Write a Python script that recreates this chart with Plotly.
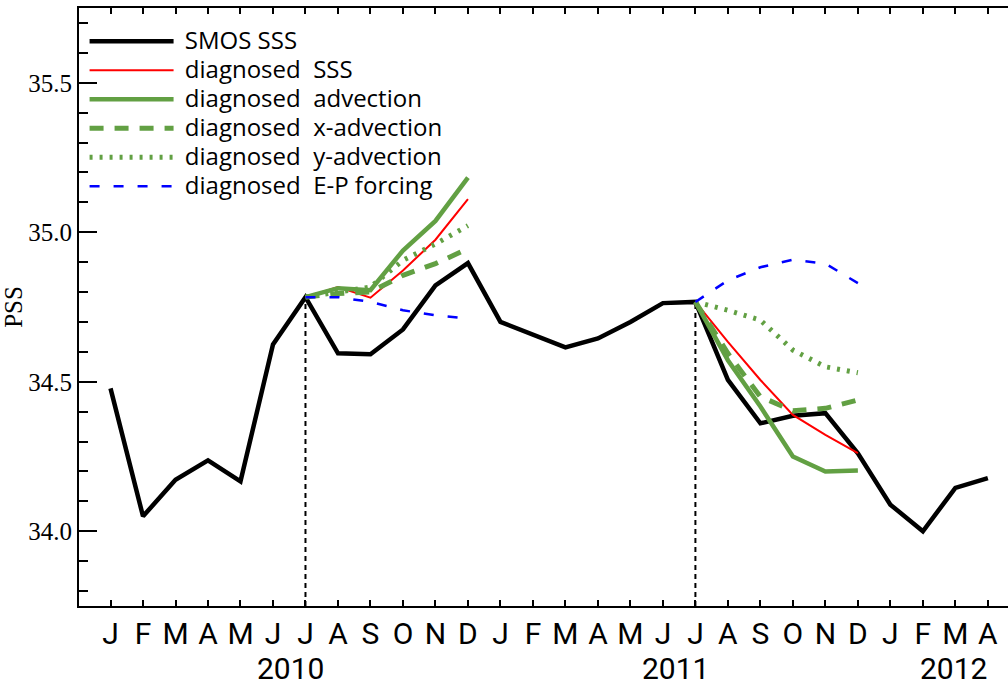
import plotly.graph_objects as go

# ---------------- data ----------------
month_labels = list("JFMAMJJASONDJFMAMJJASONDJFMA")
month_idx = list(range(len(month_labels)))

smos_sss = [34.478, 34.050, 34.172, 34.237, 34.167, 34.625, 34.783, 34.595,
            34.592, 34.675, 34.822, 34.897, 34.700, 34.656, 34.615, 34.645,
            34.700, 34.763, 34.767, 34.506, 34.361, 34.386, 34.395, 34.261,
            34.089, 34.000, 34.145, 34.178]

seg1_idx = [6, 7, 8, 9, 10, 11]
seg2_idx = [18, 19, 20, 21, 22, 23]

diag_sss_2010 = [34.783, 34.817, 34.781, 34.872, 34.975, 35.111]
diag_sss_2011 = [34.767, 34.633, 34.506, 34.389, 34.322, 34.261]
adv_2010 = [34.783, 34.813, 34.806, 34.939, 35.038, 35.183]
adv_2011 = [34.767, 34.572, 34.417, 34.250, 34.200, 34.203]
xadv_2010 = [34.783, 34.795, 34.800, 34.856, 34.895, 34.945]
xadv_2011 = [34.767, 34.595, 34.450, 34.403, 34.411, 34.439]
yadv_2010 = [34.783, 34.800, 34.817, 34.906, 34.961, 35.022]
yadv_2011 = [34.767, 34.739, 34.706, 34.606, 34.550, 34.530]
ep_2010 = [34.783, 34.783, 34.767, 34.739, 34.722, 34.711]
ep_2011 = [34.767, 34.839, 34.883, 34.908, 34.895, 34.830]

start_idx = [6, 18]
year_labels = ["2010", "2011", "2012"]
year_pos = [5.55, 17.4, 25.95]

Y_MIN, Y_MAX = 33.75, 35.75
X_MIN, X_MAX = -0.97, 27.62

GREEN = "#62a043"
SANS = "Open Sans, Noto Sans, sans-serif"
NARROW = "Liberation Sans Narrow, Roboto, sans-serif"
SERIF = "Liberation Serif, DejaVu Serif, serif"


def two_seg(a, b):
    return seg1_idx + [None] + seg2_idx, a + [None] + b


def leg(text):
    return '<span style="font-size:24px">\u00a0' + text + '</span>'


fig = go.Figure()

# vertical dashed markers at start dates
for s in start_idx:
    fig.add_trace(go.Scatter(x=[s, s], y=[Y_MIN, smos_sss[s]], mode="lines",
                             line=dict(color="black", width=2, dash="5px,4px"),
                             showlegend=False, hoverinfo="skip"))

fig.add_trace(go.Scatter(x=month_idx, y=smos_sss, mode="lines", name=leg("SMOS SSS"),
                         line=dict(color="black", width=4.5)))

series = [
    ("diagnosed\u00a0 SSS", diag_sss_2010, diag_sss_2011, dict(color="red", width=2)),
    ("diagnosed\u00a0 advection", adv_2010, adv_2011, dict(color=GREEN, width=4.5)),
    ("diagnosed\u00a0 x-advection", xadv_2010, xadv_2011, dict(color=GREEN, width=5, dash="14px,11px")),
    ("diagnosed\u00a0 y-advection", yadv_2010, yadv_2011, dict(color=GREEN, width=5, dash="3px,7px")),
    ("diagnosed\u00a0 E-P forcing", ep_2010, ep_2011, dict(color="blue", width=2.5, dash="10px,14px")),
]
for name, a, b, ln in series:
    xs, ys = two_seg(a, b)
    fig.add_trace(go.Scatter(x=xs, y=ys, mode="lines", name=leg(name), line=ln,
                             connectgaps=False))

# year labels
for lab, xp in zip(year_labels, year_pos):
    fig.add_annotation(x=xp, y=0, xref="x", yref="paper", text=lab, showarrow=False,
                       xanchor="center", yanchor="middle", yshift=-62,
                       font=dict(family=NARROW, size=30, color="black"))

fig.update_layout(
    width=1008, height=687,
    margin=dict(l=79, r=0, t=8, b=81),
    paper_bgcolor="white", plot_bgcolor="white",
    showlegend=True,
    legend=dict(x=0.006, y=0.977, xanchor="left", yanchor="top",
                bgcolor="rgba(0,0,0,0)", itemwidth=84,
                font=dict(family=SANS, size=20, color="black"),
                tracegroupgap=0, itemclick=False),
    xaxis=dict(range=[X_MIN, X_MAX], tickmode="array", tickvals=month_idx,
               ticktext=month_labels, ticks="inside", ticklen=6, tickwidth=2,
               tickcolor="black", showline=True, linewidth=2, linecolor="black",
               mirror="ticks", showgrid=False, zeroline=False,
               tickfont=dict(family=NARROW, size=30, color="black")),
    xaxis2=dict(range=[X_MIN, X_MAX], overlaying="x", anchor="y", side="bottom",
                tickmode="array", tickvals=[4, 14, 24], ticks="inside", ticklen=12,
                tickwidth=2, tickcolor="black", showticklabels=False, mirror="ticks",
                showline=False, showgrid=False, zeroline=False),
    yaxis=dict(range=[Y_MIN, Y_MAX], tickmode="array",
               tickvals=[34.0, 34.5, 35.0, 35.5], ticktext=["34.0", "34.5", "35.0", "35.5"],
               ticks="inside", ticklen=18, tickwidth=2, tickcolor="black",
               minor=dict(dtick=0.1, tick0=34.0, ticks="inside", ticklen=9,
                          tickwidth=2, tickcolor="black", showgrid=False),
               showline=True, linewidth=2, linecolor="black", mirror=False,
               showgrid=False, zeroline=False,
               tickfont=dict(family=SERIF, size=25, color="black"),
               title=dict(text="PSS", font=dict(family=SERIF, size=25, color="black"),
                          standoff=8)),
    yaxis2=dict(range=[Y_MIN, Y_MAX], overlaying="y", side="right", anchor="x",
                tickmode="array", tickvals=[34.0, 34.5, 35.0, 35.5], ticks="inside",
                ticklen=6, tickwidth=2, tickcolor="black", showticklabels=False,
                showline=False, showgrid=False, zeroline=False),
)

fig.write_html("out.html")
